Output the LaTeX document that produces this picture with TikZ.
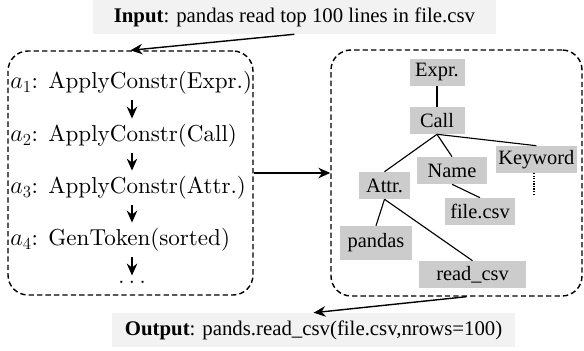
\documentclass[tikz,border=0pt]{standalone}
\usepackage{xcolor}
\usepackage{tikz}
\usepackage{fontspec}
\newfontfamily\timesfont{Liberation Serif}
\newfontfamily\lmtenfont{lmroman10-regular.otf}
\usetikzlibrary{arrows.meta}

\tikzset{
  iobox/.style = {fill = gray!10, minimum width = 10.075cm, minimum height = 0.85cm, inner sep = 0pt,
    font = \timesfont\fontsize{14.8}{17}\selectfont},
  groupbox/.style = {draw, dash pattern = on 3.8pt off 2.2pt, line width = 1pt, rounded corners = 0.5cm, inner sep = 0pt},
  action/.style = {anchor = west, inner xsep = 0pt, inner ysep = 4pt, font = \lmtenfont\fontsize{16.4}{19}\selectfont},
  ast/.style = {fill = gray!40, minimum height = 0.675cm, inner sep = 0pt,
    font = \timesfont\fontsize{14.5}{17}\selectfont},
  arr/.style = {-{Stealth[length = 8.5pt, width = 7.5pt]}, line width = 1pt},
  branch/.style = {line width = 0.8pt}
}

\begin{document}
\begin{tikzpicture}
    \useasboundingbox (0, 0) rectangle (14.6, 8.775);
    {
      \node[iobox] (input) at (7.36, 8.35) {\textbf{Input}: pandas read top 100 lines in file.csv};
      \node[iobox] (output) at (7.84, 0.525) {\textbf{Output}: pands.read\_csv(file.csv,nrows=100)};
    }
    {
      \node[groupbox, minimum width = 6.125cm, minimum height = 6.1cm] (actions) at (3.2625, 4.45) {};
      \node[groupbox, minimum width = 6.275cm, minimum height = 6.15cm] (tree) at (11.4125, 4.45) {};
    }
    % action sequence
    \coordinate (col) at (3.3, 0);
    \node[action] (a1) at (0.25, 6.7) {$a_1$: ApplyConstr(Expr.)};
    \node[action] (a2) at (0.25, 5.375) {$a_2$: ApplyConstr(Call)};
    \node[action] (a3) at (0.25, 4.075) {$a_3$: ApplyConstr(Attr.)};
    \node[action] (a4) at (0.25, 2.775) {$a_4$: GenToken(sorted)};
    \node[inner xsep = 0pt, inner ysep = 4pt, font = \fontsize{16.4}{19}\selectfont] (dots) at (3.3, 1.71) {$\dots$};
    \draw[arr] (a1.south -| col) -- (a2.north -| col);
    \draw[arr] (a2.south -| col) -- (a3.north -| col);
    \draw[arr] (a3.south -| col) -- (a4.north -| col);
    \draw[arr] (a4.south -| col) -- (dots.north);
    % syntax tree
    \node[ast, minimum width = 1.375cm] (expr) at (10.925, 6.9625) {Expr.};
    \node[ast, minimum width = 1.375cm] (call) at (10.925, 5.7625) {Call};
    \node[ast, minimum width = 1.275cm] (attr) at (9.6125, 4.1375) {Attr.};
    \node[ast, minimum width = 1.75cm] (name) at (11.3, 4.5125) {Name};
    \node[ast, minimum width = 2.025cm] (kw) at (13.41, 4.7875) {Keyword};
    \node[ast, minimum width = 1.75cm] (file) at (12.0, 3.4875) {file.csv};
    \node[ast, minimum width = 1.8cm, minimum height = 0.85cm] (pandas) at (9.4, 2.7) {pandas};
    \node[ast, minimum width = 2.675cm] (readcsv) at (11.8125, 1.9125) {read\_csv};
    \coordinate (kwdots) at (13.35, 3.925);
    \draw[branch] (expr) -- (call);
    \draw[branch] (call.south) -- (attr.north);
    \draw[branch] (call.south) -- (name.north);
    \draw[branch] (call.south) -- (kw.north);
    \draw[branch] (name.south) -- (file.north);
    \draw[branch] (attr.south) -- (pandas.north);
    \draw[branch] (attr.south) -- (readcsv.north);
    \draw[branch, densely dotted] (kw.south -| kwdots) -- (kwdots);
    % flow between parts
    \draw[arr] (input.south) -- (actions.north);
    \draw[arr] (actions.east) -- (tree.west);
    \draw[arr] ([xshift = 0.25cm]tree.south) -- (output.north);
  \end{tikzpicture}
\end{document}
